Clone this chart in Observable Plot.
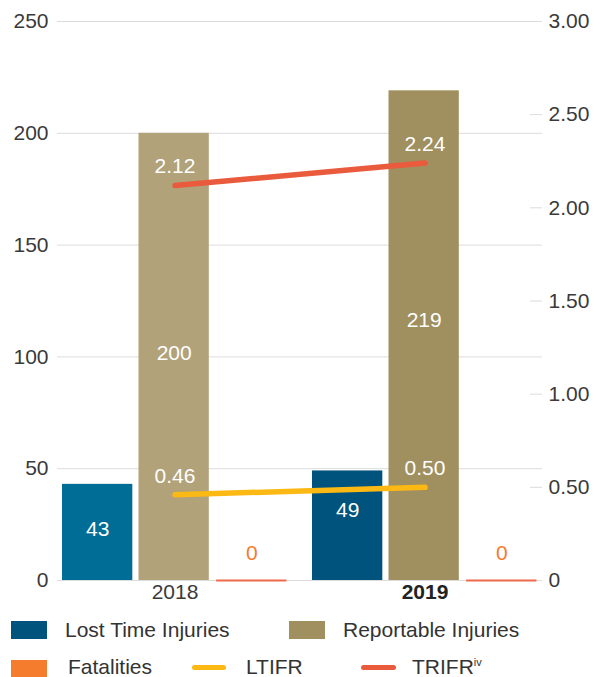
<!DOCTYPE html>
<html>
<head>
<meta charset="utf-8">
<script src="https://cdn.jsdelivr.net/npm/d3@7"></script>
<script src="https://cdn.jsdelivr.net/npm/@observablehq/plot@0.6"></script>
<style>
  body { margin: 0; background: #fff; font-family: "Liberation Sans", Arial, sans-serif; }
  #chart { position: relative; width: 603px; height: 677px; overflow: hidden; }
  #chart svg { display: block; }
  .legend { position: relative; width: 603px; height: 65px; color: #333; font-size: 21px; }
  .legend .sw { position: absolute; width: 36px; height: 18px; }
  .legend .ln { position: absolute; height: 5px; border-radius: 3px; }
  .legend .lb { position: absolute; line-height: 18px; white-space: nowrap; }
  .legend sup { font-size: 11px; position: relative; top: -8px; vertical-align: baseline; line-height: 0; }
</style>
</head>
<body>
<div id="chart"></div>
<script>
// Injury counts (left axis) and frequency rates (right axis) per year
const years = [2018, 2019];
const lostTimeInjuries = [43, 49];
const reportableInjuries = [200, 219];
const fatalities = [0, 0];
const ltifr = [0.46, 0.50];
const trifr = [2.12, 2.24];

const countTicks = [0, 50, 100, 150, 200, 250];
const rateTicks = [0, 0.5, 1, 1.5, 2, 2.5, 3];

// Colours: bars are lighter for the earlier year
const lostTimeColors = ["#006d96", "#00537d"];
const reportableColors = ["#b1a27a", "#a08f5f"];
const fatalityColor = "#f47c2c";
const fatalityBaseColor = "#f0684a";
const ltifrColor = "#fcb813";
const trifrColor = "#ea5a3c";
const gridColor = "#dcdcdc";
const textColor = "#3a3a3a";

const W = 603, H = 612, mL = 57, mR = 61, mT = 21, mB = 32;
const countMax = 250, rateMax = 3;
const k = countMax / rateMax; // rate -> count-axis units

const xOptions = {type: "band", domain: years, range: [mL, W - mR], paddingInner: 0.1, paddingOuter: 0.02};
const bw = Plot.scale({x: xOptions}).bandwidth;

// Three bars share each year's band: start fraction and width fraction of the band
const barStart = [0, 0.34, 0.685];
const barWidth = 0.3125;
const inset = (i) => ({insetLeft: barStart[i] * bw, insetRight: bw - (barStart[i] + barWidth) * bw});
const offset = (i) => (barStart[i] + barWidth / 2 - 0.5) * bw;

const rows = years.map((year, i) => ({
  year,
  lti: lostTimeInjuries[i],
  rep: reportableInjuries[i],
  fat: fatalities[i],
  ltifr: ltifr[i],
  trifr: trifr[i],
  ltiFill: lostTimeColors[i],
  repFill: reportableColors[i]
}));

// Count labels sit a little higher inside the 2019 bars
const labelShift = {2018: -3.5, 2019: -15};
const countLabels = rows.flatMap((r) => [
  Plot.text([r], {x: "year", y: (d) => d.lti / 2, text: (d) => String(d.lti), dx: offset(0), dy: labelShift[r.year], fill: "white", fontSize: 21}),
  Plot.text([r], {x: "year", y: (d) => d.rep / 2, text: (d) => String(d.rep), dx: offset(1), dy: labelShift[r.year], fill: "white", fontSize: 21})
]);

const fmtRate = (v) => { const r = v / k; return Math.abs(r) < 1e-9 ? "0" : r.toFixed(2); };

const chart = Plot.plot({
  width: W,
  height: H,
  marginLeft: mL,
  marginRight: mR,
  marginTop: mT,
  marginBottom: mB,
  style: {fontFamily: "'Liberation Sans', Arial, sans-serif", fontSize: "21px", color: textColor, background: "white"},
  x: {...xOptions, axis: null},
  y: {domain: [0, countMax], axis: null},
  marks: [
    Plot.gridY(countTicks, {stroke: gridColor, strokeOpacity: 1}),
    Plot.axisY(countTicks, {tickSize: 0, tickPadding: 9, fontSize: 21, fill: textColor, label: null}),
    Plot.axisY(rateTicks.map((r) => r * k), {anchor: "right", tickSize: 0, tickPadding: 6, fontSize: 21, fill: textColor, tickFormat: fmtRate, label: null}),
    Plot.tickY(rateTicks, {y: (r) => r * k, stroke: gridColor, insetLeft: (W - mL - mR) - 12}),
    Plot.barY(rows, {x: "year", y: "lti", fill: "ltiFill", ...inset(0)}),
    Plot.barY(rows, {x: "year", y: "rep", fill: "repFill", ...inset(1)}),
    Plot.tickY(rows, {x: "year", y: "fat", stroke: fatalityBaseColor, strokeWidth: 2, ...inset(2)}),
    ...countLabels,
    Plot.text(rows, {x: "year", y: "fat", text: (d) => String(d.fat), dx: offset(2), dy: -27, fill: fatalityColor, fontSize: 21}),
    Plot.line(rows, {x: "year", y: (d) => d.ltifr * k, stroke: ltifrColor, strokeWidth: 5.5, strokeLinecap: "round"}),
    Plot.line(rows, {x: "year", y: (d) => d.trifr * k, stroke: trifrColor, strokeWidth: 5.5, strokeLinecap: "round"}),
    Plot.text(rows, {x: "year", y: (d) => d.ltifr * k, text: (d) => d.ltifr.toFixed(2), dy: -19, fill: "white", fontSize: 21}),
    Plot.text(rows, {x: "year", y: (d) => d.trifr * k, text: (d) => d.trifr.toFixed(2), dy: -19, fill: "white", fontSize: 21}),
    Plot.text([years[0]], {x: (d) => d, text: (d) => String(d), frameAnchor: "bottom", dy: 18, fill: textColor, fontSize: 21}),
    Plot.text([years[1]], {x: (d) => d, text: (d) => String(d), frameAnchor: "bottom", dy: 18, fill: "#222", fontSize: 21, fontWeight: "bold"})
  ]
});

const root = document.getElementById("chart");
root.appendChild(chart);

// Legend below the chart
const legend = document.createElement("div");
legend.className = "legend";
const items = [
  {kind: "sw", color: lostTimeColors[1], left: 11, top: 9, label: "Lost Time Injuries", tx: 65, ty: 9},
  {kind: "sw", color: reportableColors[1], left: 289, top: 9, label: "Reportable Injuries", tx: 343, ty: 9},
  {kind: "sw", color: fatalityColor, left: 11, top: 48, label: "Fatalities", tx: 68, ty: 46},
  {kind: "ln", color: ltifrColor, left: 192, width: 34, top: 53, label: "LTIFR", tx: 246, ty: 46},
  {kind: "ln", color: trifrColor, left: 361, width: 35, top: 53, label: "TRIFR", sup: "iv", tx: 412, ty: 46}
];
for (const it of items) {
  const mark = document.createElement("div");
  mark.className = it.kind;
  mark.style.background = it.color;
  mark.style.left = it.left + "px";
  mark.style.top = it.top + "px";
  if (it.width) mark.style.width = it.width + "px";
  legend.appendChild(mark);
  const lb = document.createElement("div");
  lb.className = "lb";
  lb.style.left = it.tx + "px";
  lb.style.top = it.ty + "px";
  lb.textContent = it.label;
  if (it.sup) {
    const s = document.createElement("sup");
    s.textContent = it.sup;
    lb.appendChild(s);
  }
  legend.appendChild(lb);
}
root.appendChild(legend);
</script>
</body>
</html>
